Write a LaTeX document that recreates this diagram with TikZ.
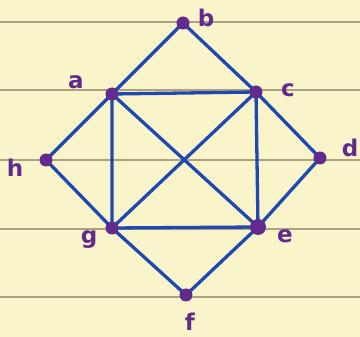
\documentclass[tikz,border=0pt]{standalone}
\usepackage{fontspec}
\setmainfont{DejaVu Sans}
\definecolor{paper}{RGB}{250,244,202}
\definecolor{rule}{RGB}{172,162,128}
\definecolor{ink}{RGB}{30,72,178}
\definecolor{dot}{RGB}{98,42,140}
\begin{document}
\begin{tikzpicture}[x=1pt, y=-1pt,
  vtx/.style={circle,inner sep=0pt,minimum size=13pt},
  lbl/.style={text=dot,font=\fontsize{23}{25}\selectfont\bfseries},
  edge/.style={ink,line width=3.3pt}]
% paper
\fill[paper] (0,0) rectangle (360,337);
\useasboundingbox (0,0) rectangle (360,337);
\foreach \y in {22,90,160,229,297}
  \draw[rule,line width=1.3pt] (0,\y) -- (360,\y);
% vertices
\node[vtx] (b) at (183,23) {};
\node[vtx] (a) at (112,94) {};
\node[vtx] (c) at (256,92) {};
\node[vtx] (h) at (46,160) {};
\node[vtx] (d) at (320,158) {};
\node[vtx] (g) at (112,228) {};
\node[vtx] (e) at (258,227) {};
\node[vtx] (f) at (186,295) {};
% edges
\draw[edge] (a.center) -- (b.center) -- (c.center) -- (a.center);
\draw[edge] (a.center) -- (h.center) -- (g.center) -- (a.center);
\draw[edge] (c.center) -- (d.center) -- (e.center) -- (c.center);
\draw[edge] (g.center) -- (e.center) -- (f.center) -- (g.center);
\draw[edge] (a.center) -- (e.center);
\draw[edge] (g.center) -- (c.center);
% dots on top
\foreach \v in {a,b,c,d,f,g,h}
  \fill[dot] (\v) circle (6.5pt);
\fill[dot] (e) circle (8pt);
% labels
\node[lbl] (lb) at (206,18) {b};
\node[lbl] (la) at (76,82) {a};
\node[lbl] (lc) at (288,90) {c};
\node[lbl] (lh) at (15,168) {h};
\node[lbl] (ld) at (350,148) {d};
\node[lbl] (lg) at (89,240) {g};
\node[lbl] (le) at (285,236) {e};
\node[lbl] (lf) at (190,322) {f};
\end{tikzpicture}
\end{document}
